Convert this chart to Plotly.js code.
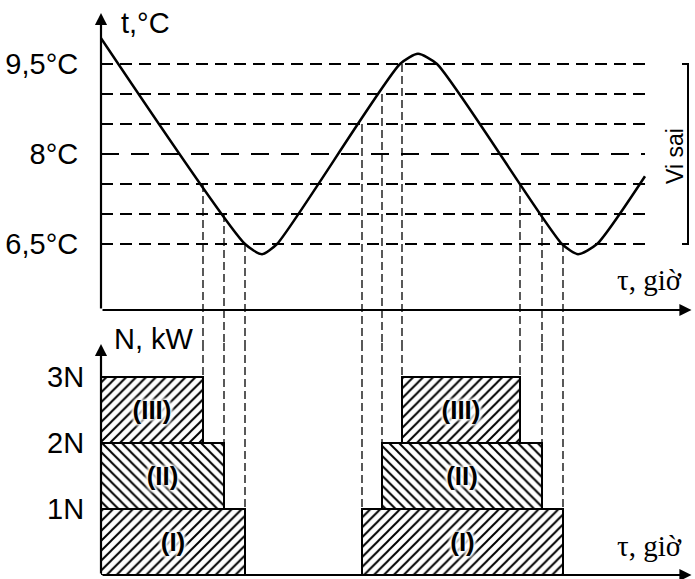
<!DOCTYPE html>
<html>
<head>
<meta charset="utf-8">
<script src="https://cdn.plot.ly/plotly-3.0.1.min.js"></script>
<style>html,body{margin:0;padding:0;background:#fff;}#chart{width:695px;height:579px;}</style>
</head>
<body>
<div id="chart"></div>
<script>
// ---- data ----
// temperature curve (time in arbitrary units, temperature in °C)
const tauCurve  = [0, 14.4, 16.1, 17.6, 29.9, 31.7, 33.6, 46.1, 47.7, 49.6, 54.4];
const tempCurve = [9.93, 6.5, 6.33, 6.5, 9.5, 9.67, 9.5, 6.5, 6.33, 6.5, 7.63];
// dashed temperature levels
const levels = [6.5, 7.0, 7.5, 8.0, 8.5, 9.0, 9.5];
const levelEnd = 54.4;
// y tick labels
const tempTicks = [6.5, 8, 9.5];
const tempTickText = ['6,5°C', '8°C', '9,5°C'];
const powerTicks = [1, 2, 3];
const powerTickText = ['1N', '2N', '3N'];
// compressor stages
const stages = ['(I)', '(II)', '(III)'];
const stageOnTemp  = [8.5, 9.0, 9.5];
const stageOffTemp = [6.5, 7.0, 7.5];
const cycle1Start = [0, 0, 0];
const cycle1End   = [14.4, 12.3, 10.2];
const cycle2Start = [26.1, 28.1, 30.1];
const cycle2End   = [46.2, 44.1, 41.9];
const stagePattern = ['/', '\\', '/'];

// ---- layout constants ----
const W = 695, H = 579, ML = 101, MR = 3, MT = 12, MB = 4;
const PW = W - ML - MR, PH = H - MT - MB;
const splitPy = 343;
const split = (H - MB - splitPy) / PH;
const xRange = [0, 59.1];
const tRange = [4.85, 10.367];
const nRange = [0, 3.515];
const tAxisY = 5.4;
function P(px, py) { return {x: (px - ML) / PW, y: (H - MB - py) / PH}; }

const traces = [];
// horizontal dashed levels
levels.forEach(function (lv) {
  traces.push({
    type: 'scatter', mode: 'lines', xaxis: 'x', yaxis: 'y',
    x: [0, levelEnd], y: [lv, lv], hoverinfo: 'skip',
    line: {color: '#000', width: 2, dash: lv === 8 ? '18px,12px' : '12px,7px'}
  });
});
// vertical dashed switching lines
const vx = [], vy = [], bx = [], by = [];
for (let i = 0; i < stages.length; i++) {
  const pts = [[cycle1End[i], stageOffTemp[i]], [cycle2Start[i], stageOnTemp[i]], [cycle2End[i], stageOffTemp[i]]];
  pts.forEach(function (p) {
    vx.push(p[0], p[0], null); vy.push(p[1], tRange[0], null);
    bx.push(p[0], p[0], null); by.push(nRange[1], i + 1, null);
  });
}
traces.push({type: 'scatter', mode: 'lines', xaxis: 'x', yaxis: 'y', x: vx, y: vy,
  line: {color: '#000', width: 1.3, dash: '8px,4px'}, hoverinfo: 'skip', connectgaps: false});
traces.push({type: 'scatter', mode: 'lines', xaxis: 'x2', yaxis: 'y2', x: bx, y: by,
  line: {color: '#000', width: 1.3, dash: '8px,4px'}, hoverinfo: 'skip', connectgaps: false});
// temperature curve
traces.push({
  type: 'scatter', mode: 'lines', xaxis: 'x', yaxis: 'y',
  x: tauCurve, y: tempCurve,
  line: {color: '#000', width: 2.5, shape: 'spline', smoothing: 0.6}
});
// "Vi sai" bracket
const lmax = Math.max.apply(null, levels), lmin = Math.min.apply(null, levels);
traces.push({type: 'scatter', mode: 'lines', xaxis: 'x', yaxis: 'y',
  x: [58.1, 58.7, 58.7, 58.1], y: [lmax, lmax, lmin, lmin],
  line: {color: '#000', width: 2}, hoverinfo: 'skip'});
// bars
for (let i = 0; i < stages.length; i++) {
  const s = [cycle1Start[i], cycle2Start[i]], e = [cycle1End[i], cycle2End[i]];
  traces.push({
    type: 'bar', xaxis: 'x2', yaxis: 'y2',
    x: s.map(function (v, k) { return (v + e[k]) / 2; }),
    width: s.map(function (v, k) { return e[k] - v; }),
    y: [1, 1], base: [i, i],
    text: [stages[i], stages[i]], textposition: 'inside', insidetextanchor: 'middle',
    textangle: 0, constraintext: 'none',
    textfont: {family: 'Liberation Sans', size: 26, color: '#000', weight: 'bold',
      shadow: '#fff 0 0 4px, #fff 0 0 4px, #fff 0 0 4px, #fff 0 0 4px, #fff 0 0 4px'},
    marker: {color: '#fff', line: {color: '#000', width: 2},
      pattern: {shape: stagePattern[i], fgcolor: '#000', bgcolor: '#fff', size: 7, solidity: 0.28, fillmode: 'replace'}},
    hoverinfo: 'skip'
  });
}

const font = {family: 'Liberation Sans, Arial, sans-serif', size: 29, color: '#000'};
const serif = {family: 'Liberation Serif, Times New Roman, serif', size: 29, color: '#000'};
function label(text, px, py, f, extra) {
  const p = P(px, py);
  return Object.assign({xref: 'paper', yref: 'paper', x: p.x, y: p.y, text: text, showarrow: false,
    xanchor: 'center', yanchor: 'middle', font: f}, extra || {});
}
function arrow(xref, yref, x, y, ax, ay) {
  return {xref: xref, yref: yref, axref: xref, ayref: yref, x: x, y: y, ax: ax, ay: ay, text: '',
    showarrow: true, arrowhead: 2, arrowsize: 1.1, arrowwidth: 2.2, arrowcolor: '#000', standoff: 0, startstandoff: 0};
}
const annotations = [
  arrow('x', 'y', 0, 10.35, 0, tAxisY),
  arrow('x', 'y', 59.05, tAxisY, 0, tAxisY),
  arrow('x2', 'y2', 0, 3.5, 0, 0),
  arrow('x2', 'y2', 59.05, 0, 0, 0),
  label('t,°C', 145, 23, font),
  label('N, kW', 154, 339, font),
  label('τ, giờ', 649, 280, serif),
  label('τ, giờ', 649, 546, serif),
  label('Vi sai', 675, 156, Object.assign({}, font, {size: 23}), {textangle: -90})
];

const layout = {
  width: W, height: H,
  margin: {l: ML, r: MR, t: MT, b: MB, pad: 0},
  paper_bgcolor: '#fff', plot_bgcolor: 'rgba(0,0,0,0)',
  showlegend: false, barmode: 'overlay',
  xaxis: {domain: [0, 1], range: xRange, visible: false, anchor: 'y'},
  yaxis: {domain: [split, 1], range: tRange, anchor: 'x', tickvals: tempTicks, ticktext: tempTickText,
    ticks: 'outside', ticklen: 16, tickcolor: 'rgba(0,0,0,0)', showgrid: false, zeroline: false, showline: false,
    tickfont: font},
  xaxis2: {domain: [0, 1], range: xRange, visible: false, anchor: 'y2'},
  yaxis2: {domain: [0, split], range: nRange, anchor: 'x2', tickvals: powerTicks, ticktext: powerTickText,
    ticks: 'outside', ticklen: 10, tickcolor: 'rgba(0,0,0,0)', showgrid: false, zeroline: false, showline: false,
    tickfont: font},
  annotations: annotations
};
Plotly.newPlot('chart', traces, layout, {displayModeBar: false, staticPlot: true});
</script>
</body>
</html>
